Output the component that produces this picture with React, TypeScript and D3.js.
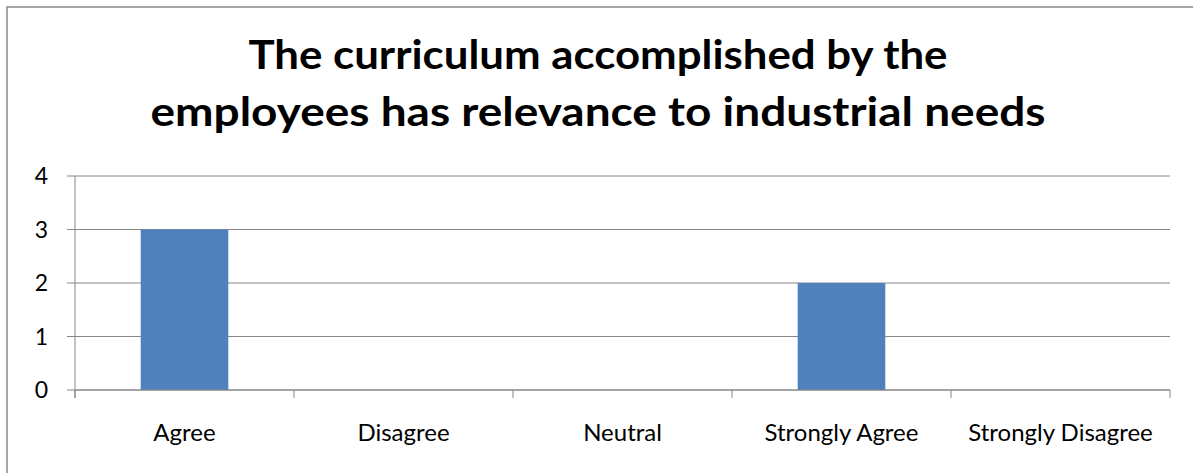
import React from "react";
import * as d3 from "d3";

const categories = ["Agree", "Disagree", "Neutral", "Strongly Agree", "Strongly Disagree"];
const values = [3, 0, 0, 2, 0];
const yTicks = [0, 1, 2, 3, 4];
const titleLines = ["The curriculum accomplished by the", "employees has relevance to industrial needs"];
const titleWidths = [699, 895];

const W = 1193;
const H = 473;
const margin = { left: 75, right: 23, top: 176, bottom: 83 };

export default function App() {
  const x = d3.scaleBand<string>().domain(categories).range([margin.left, W - margin.right]).paddingInner(0).paddingOuter(0);
  const y = d3.scaleLinear().domain([0, 4]).range([H - margin.bottom, margin.top]);
  const bw = x.bandwidth() * 0.4;
  const font = "Lato, 'Open Sans', sans-serif";
  const grid = "#868686";
  const edges = categories.map((c) => x(c)!).concat([W - margin.right]);
  return (
    <svg width={W} height={H} style={{ position: "absolute", left: 0, top: 0 }}>
      <rect x={0} y={0} width={W} height={H} fill="#fff" />
      <rect x={7} y={7} width={W + 20} height={H + 20} fill="none" stroke="#888" strokeWidth={1.5} />
      {titleLines.map((t, i) => (
        <text key={i} x={598} y={69 + i * 57} textAnchor="middle" fontFamily={font} fontWeight="bold" fontSize={41}
          textLength={titleWidths[i]} lengthAdjust="spacingAndGlyphs" fill="#000">
          {t}
        </text>
      ))}
      {yTicks.map((t) => (
        <g key={t}>
          <line x1={margin.left - 8} x2={W - margin.right} y1={y(t)} y2={y(t)} stroke={grid} strokeWidth={1} />
          <text x={48} y={y(t)} dy="0.36em" textAnchor="end" fontFamily={font} fontSize={23} fill="#000">
            {t}
          </text>
        </g>
      ))}
      <line x1={margin.left} x2={margin.left} y1={y(4)} y2={y(0) + 8} stroke={grid} strokeWidth={1} />
      {edges.map((e, i) => (
        <line key={i} x1={e} x2={e} y1={y(0)} y2={y(0) + 8} stroke={grid} strokeWidth={1} />
      ))}
      {categories.map((c, i) => (
        <rect key={c} x={x(c)! + (x.bandwidth() - bw) / 2} y={y(values[i])} width={bw} height={y(0) - y(values[i])} fill="#4F81BD" />
      ))}
      <line x1={margin.left} x2={W - margin.right} y1={y(0)} y2={y(0)} stroke={grid} strokeWidth={1} />
      {categories.map((c) => (
        <text key={c} x={x(c)! + x.bandwidth() / 2} y={441} textAnchor="middle" fontFamily={font} fontSize={24} fill="#000">
          {c}
        </text>
      ))}
    </svg>
  );
}
